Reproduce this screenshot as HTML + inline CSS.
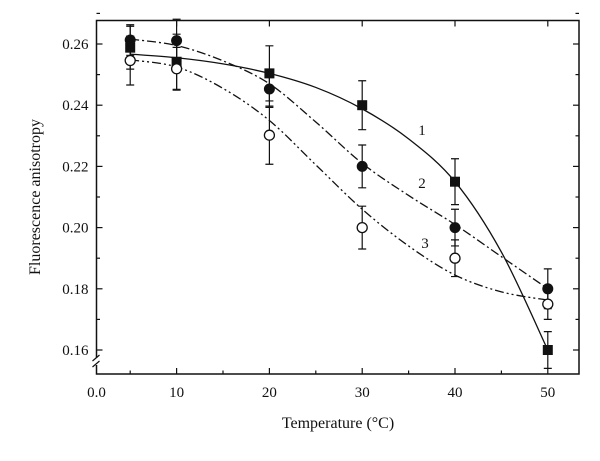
<!DOCTYPE html>
<html><head><meta charset="utf-8"><style>
html,body{margin:0;padding:0;background:#fff;}
svg text{font-family:"Liberation Serif",serif;fill:#111;}
</style></head><body>
<svg id="chart" width="600" height="456" viewBox="0 0 600 456" xmlns="http://www.w3.org/2000/svg"></svg>
<script>
const xTicks=[10,20,30,40,50];
const xTickLabels=["10","20","30","40","50"];
const yTicks=[0.16,0.18,0.20,0.22,0.24,0.26];
const yTickLabels=["0.16","0.18","0.20","0.22","0.24","0.26"];
const temps=[5,10,20,30,40,50];
const s1=[0.2588,0.2542,0.2504,0.240,0.215,0.160];
const e1=[0.007,0.009,0.009,0.008,0.0075,0.006];
const s2=[0.2613,0.2611,0.2453,0.220,0.200,0.180];
const e2=[0.005,0.007,0.006,0.007,0.006,0.0065];
const s3=[0.2546,0.2519,0.2302,0.200,0.190,0.175];
const e3=[0.008,0.007,0.0095,0.007,0.006,0.005];
const fitT=[5,10,15,20,25,30,35,40,45,50];
const fit1=[0.2567,0.2555,0.2535,0.2504,0.2458,0.2388,0.229,0.215,0.192,0.160];
const fit2=[0.2616,0.2595,0.2545,0.2470,0.2345,0.2210,0.2105,0.2010,0.1905,0.1800];
const fit3=[0.2548,0.2525,0.2455,0.2350,0.2205,0.2060,0.1940,0.1845,0.1790,0.1763];

const X=t=>83.8+9.28*t;
const Y=v=>350-(v-0.16)*3060;
const L=96.5,R=579,T=20.5,B=374;
const svg=document.getElementById('chart');
const NS='http://www.w3.org/2000/svg';
function mk(tag,attrs,parent){const e=document.createElementNS(NS,tag);for(const k in attrs)e.setAttribute(k,attrs[k]);(parent||svg).appendChild(e);return e;}

let fr=mk('rect',{x:L,y:T,width:R-L,height:B-T,fill:'none',stroke:'#111','stroke-width':1.5});



xTicks.forEach((t,i)=>{
  let tk=mk('line',{x1:X(t),x2:X(t),y1:B,y2:B-6,stroke:'#111','stroke-width':1.2});
  
  
  let tk2=mk('line',{x1:X(t),x2:X(t),y1:T,y2:T+6,stroke:'#111','stroke-width':1.2});
  
  
  let m=mk('line',{x1:X(t-5),x2:X(t-5),y1:B,y2:B-3.5,stroke:'#111','stroke-width':1.2});
  
  
  let lb=mk('text',{x:X(t),y:B+23,'text-anchor':'middle','font-size':15});
  lb.textContent=xTickLabels[i];
  
  
});
let l0=mk('text',{x:L,y:B+23,'text-anchor':'middle','font-size':15});l0.textContent='0.0';



yTicks.forEach((v,i)=>{
  let tk=mk('line',{x1:L,x2:L+6,y1:Y(v),y2:Y(v),stroke:'#111','stroke-width':1.2});
  
  
  let tk2=mk('line',{x1:R,x2:R-6,y1:Y(v),y2:Y(v),stroke:'#111','stroke-width':1.2});
  
  
  let m=mk('line',{x1:L,x2:L+3.5,y1:Y(v+0.01),y2:Y(v+0.01),stroke:'#111','stroke-width':1.2});
  
  
  let m2=mk('line',{x1:R,x2:R-3.5,y1:Y(v+0.01),y2:Y(v+0.01),stroke:'#111','stroke-width':1.2});
  
  
  let lb=mk('text',{x:L-8,y:Y(v)+5,'text-anchor':'end','font-size':15});
  lb.textContent=yTickLabels[i];
  
  
});
let br=mk('rect',{x:L-4,y:358,width:8,height:7,fill:'#fff'});


let b1=mk('path',{d:`M${L-4},${361} L${L+3},${355} M${L-4},${367} L${L+3},${361}`,stroke:'#111','stroke-width':1.2,fill:'none'});



let xt=mk('text',{x:338,y:428,'text-anchor':'middle','font-size':16});xt.textContent='Temperature (°C)';


let yt=mk('text',{x:0,y:0,'text-anchor':'middle','font-size':16,transform:'translate(40,197) rotate(-90)'});yt.textContent='Fluorescence anisotropy';



function curve(vals,dash,name){
  const p=fitT.map((t,i)=>[X(t),Y(vals[i])]);
  let d=`M${p[0][0]},${p[0][1]}`;
  for(let i=0;i<p.length-1;i++){
    const p0=p[Math.max(0,i-1)],p1=p[i],p2=p[i+1],p3=p[Math.min(p.length-1,i+2)];
    const c1=[p1[0]+(p2[0]-p0[0])/6,p1[1]+(p2[1]-p0[1])/6];
    const c2=[p2[0]-(p3[0]-p1[0])/6,p2[1]-(p3[1]-p1[1])/6];
    d+=` C${c1[0]},${c1[1]} ${c2[0]},${c2[1]} ${p2[0]},${p2[1]}`;
  }
  let e=mk('path',{d,fill:'none',stroke:'#111','stroke-width':1.3,'stroke-dasharray':dash});
  
  
}
curve(fit1,'none','fit-curve-1');
curve(fit2,'9 3 2 3','fit-curve-2');
curve(fit3,'9 3 2 3 2 3','fit-curve-3');

function errs(vals,er,name){
  temps.forEach((t,i)=>{
    const x=X(t),a=Y(vals[i]+er[i]),b=Y(vals[i]-er[i]);
    let g=mk('path',{d:`M${x},${a} L${x},${b} M${x-4},${a} L${x+4},${a} M${x-4},${b} L${x+4},${b}`,stroke:'#111','stroke-width':1.2,fill:'none'});
    
    
  });
}
errs(s1,e1,'error-bar-series-1');
errs(s2,e2,'error-bar-series-2');
errs(s3,e3,'error-bar-series-3');

temps.forEach((t,i)=>{
  let q=mk('rect',{x:X(t)-5,y:Y(s1[i])-5,width:10,height:10,fill:'#111'});
  
  
  let c=mk('circle',{cx:X(t),cy:Y(s2[i]),r:5.5,fill:'#111'});
  
  
  let o=mk('circle',{cx:X(t),cy:Y(s3[i]),r:5,fill:'#fff',stroke:'#111','stroke-width':1.3});
  
  
});

[['1',422,135],['2',422,188],['3',425,248]].forEach(([s,x,y])=>{
  let t=mk('text',{x,y,'text-anchor':'middle','font-size':15});t.textContent=s;
  
  
});
</script>
</body></html>
